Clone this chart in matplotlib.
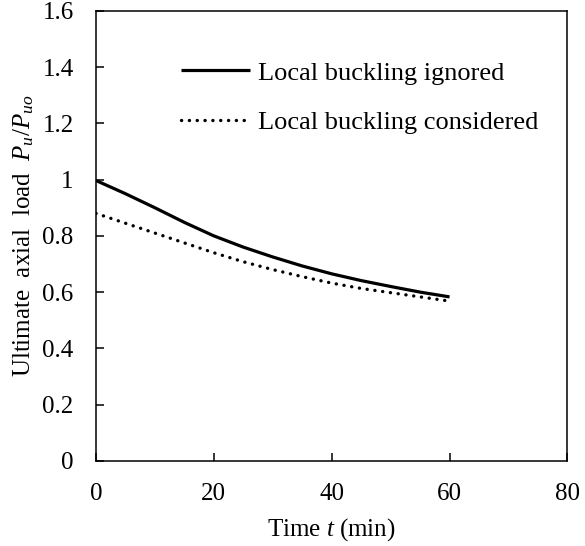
import matplotlib
matplotlib.use("Agg")
import matplotlib.pyplot as plt

# Times-like serif fonts for text and math
plt.rcParams['font.family'] = 'Liberation Serif'
plt.rcParams['mathtext.fontset'] = 'custom'
plt.rcParams['mathtext.rm'] = 'Liberation Serif'
plt.rcParams['mathtext.it'] = 'Liberation Serif:italic'

# Fire exposure time (min) and normalised ultimate axial load
time_min = [0, 5, 10, 15, 20, 25, 30, 35, 40, 45, 50, 55, 60]
load_ignored = [0.997, 0.95, 0.90, 0.848, 0.80, 0.76, 0.725, 0.693,
                0.665, 0.641, 0.62, 0.60, 0.583]
load_considered = [0.88, 0.845, 0.81, 0.775, 0.74, 0.708, 0.68, 0.655,
                   0.632, 0.613, 0.598, 0.583, 0.568]

x_ticks = [0, 20, 40, 60, 80]
y_ticks = [0, 0.2, 0.4, 0.6, 0.8, 1.0, 1.2, 1.4, 1.6]
y_ticklabels = ['0', '0.2', '0.4', '0.6', '0.8', '1', '1.2', '1.4', '1.6']

fig = plt.figure(figsize=(5.85, 5.46), dpi=100)
ax = fig.add_axes([0.164, 0.156, 0.806, 0.824])

ax.plot(time_min, load_ignored, color='black', linewidth=2.3,
        solid_capstyle='butt', label='Local buckling ignored')
ax.plot(time_min, load_considered, color='black', linewidth=2.4,
        linestyle=(0, (0.05, 2.3)), dash_capstyle='round',
        label='Local buckling considered')

ax.set_xlim(0, 80)
ax.set_ylim(0, 1.6)
ax.set_xticks(x_ticks)
ax.set_yticks(y_ticks)
ax.set_yticklabels(y_ticklabels)
ax.tick_params(direction='in', length=6, width=1.1, labelsize=18, pad=16)

for s in ax.spines.values():
    s.set_linewidth(1.1)

ax.set_xlabel('Time $t$ (min)', fontsize=18, labelpad=8)
ax.set_ylabel('Ultimate  axial  load  $P_u$/$P_{uo}$', fontsize=18)
ax.yaxis.set_label_coords(-0.128, 0.5)

ax.legend(loc='upper left', bbox_to_anchor=(0.158, 0.912), frameon=False,
          fontsize=19, handlelength=2.6, handletextpad=0.3, labelspacing=1.0,
          borderaxespad=0)

fig.savefig('out.png', dpi=100)
